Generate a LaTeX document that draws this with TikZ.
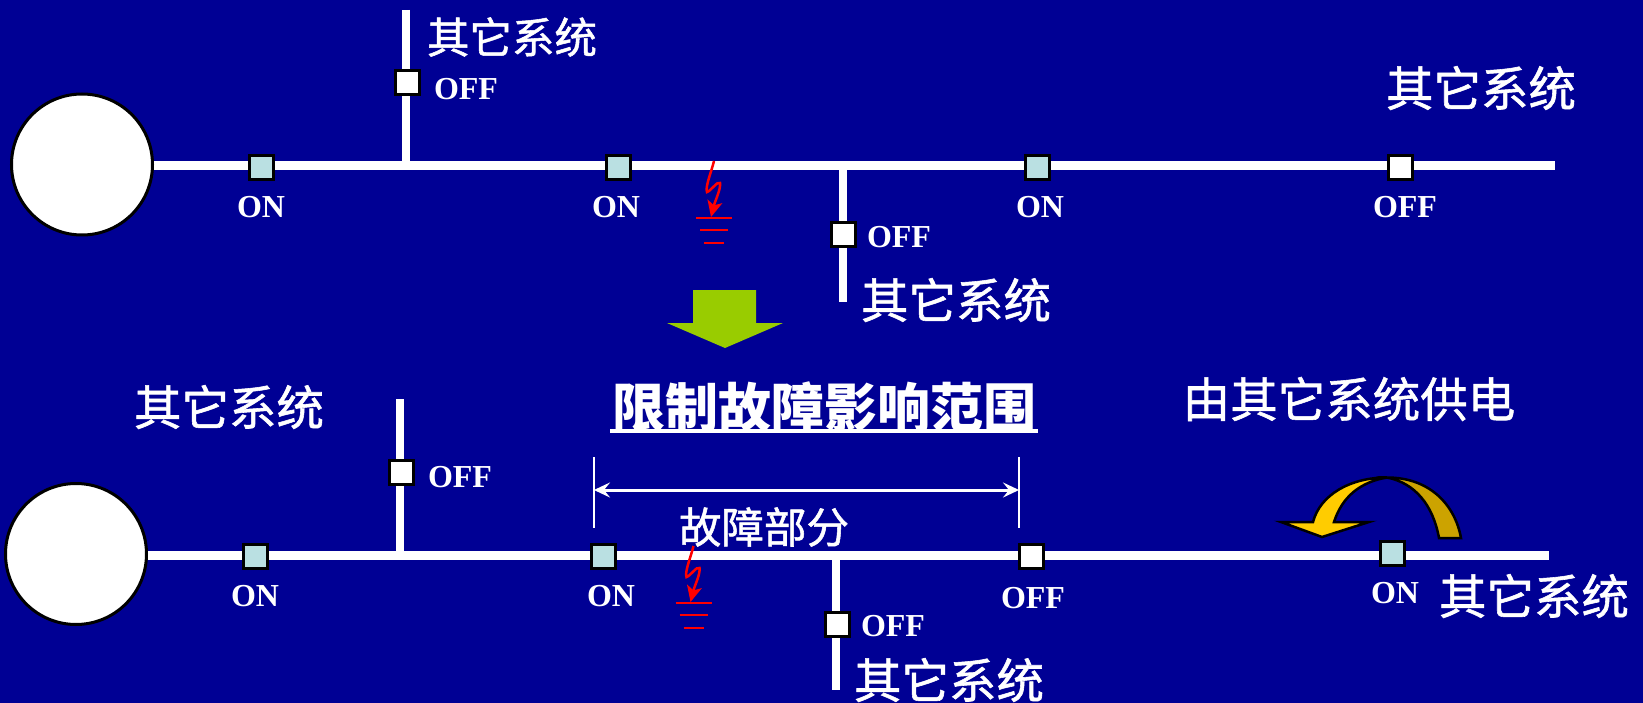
\documentclass[tikz,border=0pt]{standalone}
\usepackage{fontspec}
\setmainfont{Liberation Serif}
\newfontfamily\cjk[FakeBold=1.2]{Noto Sans CJK SC}
\newfontfamily\cjkb{Noto Sans CJK SC}
\usetikzlibrary{arrows.meta}
\definecolor{bgblue}{RGB}{0,0,148}
\definecolor{teal}{RGB}{186,224,226}
\definecolor{grn}{RGB}{153,204,0}
\definecolor{gold}{RGB}{255,204,0}
\definecolor{dgold}{RGB}{204,163,0}
\tikzset{x=1pt,y=-1pt,
 line/.style={draw=white,line width=8.5pt},
 src/.style={circle,draw=black,fill=white,line width=3pt,minimum size=141pt,inner sep=0pt},
 sw/.style={rectangle,draw=black,line width=3pt,minimum size=24pt,inner sep=0pt},
 swon/.style={sw,fill=teal},
 swoff/.style={sw,fill=white},
 lab/.style={text=white,font=\fontsize{32}{32}\selectfont\bfseries,inner sep=0pt},
 zh/.style={text=white,font=\cjk\fontsize{42.5}{42.5}\selectfont,inner sep=0pt},
 zhb/.style={text=white,font=\cjk\fontsize{47.5}{47.5}\selectfont,inner sep=0pt},
 fault/.style={draw=red,line width=2.5pt},
}
\newcommand{\faultmark}[2]{%
 \begin{scope}[shift={(#1,#2)}]
 \draw[fault,-{Stealth[length=16pt,width=15pt,inset=4pt]}] (0,0) .. controls (-3,12) and (-9,26) .. (-7,31) .. controls (-3,30) and (3,20) .. (6,22) .. controls (7,28) and (1,40) .. (-3,56);
 \draw[fault] (-18,57) -- (18,57) (-14,69) -- (14,69) (-10,82) -- (10,82);
 \end{scope}}
\begin{document}
\begin{tikzpicture}
\useasboundingbox (0,0) rectangle (1643,703);
\fill[bgblue] (0,0) rectangle (1643,703);
% top
\coordinate (t1) at (154,165.5); \coordinate (t2) at (1555,165.5);
\coordinate (tu) at (406,10); \coordinate (tuj) at (406,165.5);
\coordinate (td) at (843,302); \coordinate (tdj) at (843,165.5);
\draw[line] (t1) -- (t2);
\draw[line] (tu) -- (tuj);
\draw[line] (tdj) -- (td);
\node[src] (ta) at (82,164.5) {};
\node[swon] (s1) at (261,168) {};
\node[swon] (s2) at (618,168) {};
\node[swon] (s3) at (1037,168) {};
\node[swoff] (s4) at (1400,168) {};
\node[swoff] (s5) at (407,83) {};
\node[swoff] (s6) at (843,235) {};
\node[lab] at (261,207) {ON};
\node[lab] at (616,207) {ON};
\node[lab] at (1040,207) {ON};
\node[lab] at (1405,207) {OFF};
\node[lab] at (466,89) {OFF};
\node[lab] at (899,237) {OFF};
\node[zh] at (512,37) {其它系统};
\node[zhb] at (1481,88) {其它系统};
\node[zhb] at (956,300) {其它系统};
\faultmark{714}{161}
% arrow
\fill[grn] (693,290) -- (756,290) -- (756,323) -- (783,323) -- (725,348) -- (667,323) -- (693,323) -- cycle;
% bottom
\coordinate (b1) at (148,555.5); \coordinate (b2) at (1549,555.5);
\coordinate (bu) at (400,399); \coordinate (buj) at (400,555.5);
\coordinate (bd) at (836,690); \coordinate (bdj) at (836,555.5);
\draw[line] (b1) -- (b2);
\draw[line] (bu) -- (buj);
\draw[line] (bdj) -- (bd);
\node[src] (ba) at (76,554) {};
\node[swon] (r1) at (255,556) {};
\node[swon] (r2) at (603,556) {};
\node[swoff] (r3) at (1031,556) {};
\node[swon] (r4) at (1392,553) {};
\node[swoff] (r5) at (401,472) {};
\node[swoff] (r6) at (837,624) {};
\node[lab] at (255,596) {ON};
\node[lab] at (611,596) {ON};
\node[lab] at (1033,598) {OFF};
\node[lab] at (1395,593) {ON};
\node[lab] at (460,477) {OFF};
\node[lab] at (893,626) {OFF};
\node[zhb] at (229,407) {其它系统};
\node[zhb] at (949,680) {其它系统};
\node[zhb] at (1534,596) {其它系统};
\node[zhb] at (1349,399) {由其它系统供电};
\node[text=white,font=\cjkb\fontsize{53}{53}\selectfont\bfseries,inner sep=0pt] (title) at (824,407) {限制故障影响范围};
\draw[white,line width=3.5pt] (610,431) -- (1038,431);
\node[zh] at (764,527) {故障部分};
\faultmark{693.5}{546}
% dimension
\coordinate (d1) at (594,490); \coordinate (d2) at (1019,490);
\draw[white,line width=1.5pt] (594,457) -- (594,528) (1019,457) -- (1019,528);
\draw[white,line width=3pt,{Stealth[length=16pt,width=15pt,inset=6pt]}-{Stealth[length=16pt,width=15pt,inset=6pt]}] (d1) -- (d2);
% curved arrow
\draw[black,line width=2.5pt,fill=dgold] (1387,477.5) .. controls (1430,477.5) and (1455,505) .. (1461,538) -- (1439,538) .. controls (1433,505) and (1415,483) .. (1387,477.5) -- cycle;
\draw[black,line width=2.5pt,fill=gold] (1387,477.5) .. controls (1350,477.5) and (1320,495) .. (1313,522) -- (1281,522) -- (1322,537) -- (1369,522) -- (1334,522) .. controls (1342,497) and (1360,482) .. (1387,477.5) -- cycle;
\end{tikzpicture}
\end{document}
